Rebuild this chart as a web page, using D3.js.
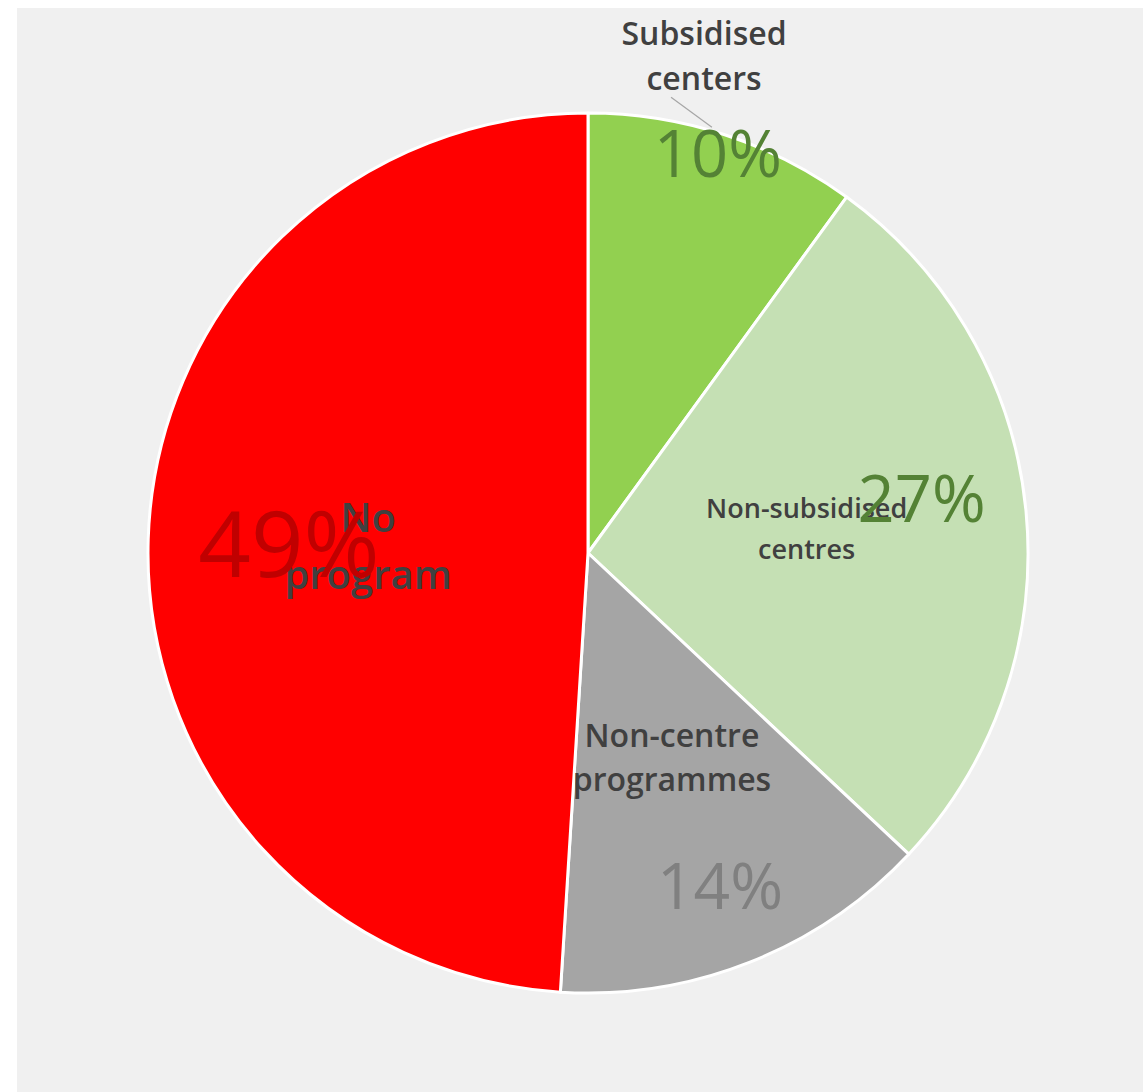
<!DOCTYPE html>
<html>
<head>
<meta charset="utf-8">
<script src="https://cdn.jsdelivr.net/npm/d3@7"></script>
<style>
  html, body { margin: 0; padding: 0; background: #ffffff; }
  svg { display: block; }
</style>
</head>
<body>
<svg id="chart" width="1143" height="1092"></svg>
<script>
// Share of children by type of care arrangement (percent)
const categories = ["Subsidised centers", "Non-subsidised centres", "Non-centre programmes", "No program"];
const values = [10, 27, 14, 49];
const valueLabels = ["10%", "27%", "14%", "49%"];
const nameLines = [["Subsidised", "centers"], ["Non-subsidised", "centres"], ["Non-centre", "programmes"], ["No", "program"]];

// Styling per slice
const sliceColors = ["#92d050", "#c5e0b4", "#a5a5a5", "#ff0000"];
const pctColors = ["#548235", "#548235", "#808080", "#c00000"];
const pctSizes = [65, 65, 64, 92];
const nameSizes = [32, 27, 32, 40];
const nameLineHeights = [45, 41, 44, 57];
// label placement: radius as a fraction of the pie radius, angle shift from the slice middle (radians)
const pctRadius = [0.955, 0.768, 0.815, 0.68];
const pctAngleShift = [0, -0.066, 0, 0];
const nameRadius = [1.161, 0.5, 0.503, 0.5];
const nameAngleShift = [-0.085, -0.016, -0.012, 0];

const width = 1143, height = 1092;
const cx = 588, cy = 553, R = 440;

const svg = d3.select("#chart");

// chart area background
svg.append("rect")
  .attr("x", 17).attr("y", 8)
  .attr("width", width - 17).attr("height", height - 8)
  .attr("fill", "#f0f0f0");

const g = svg.append("g").attr("transform", `translate(${cx},${cy})`);

const pie = d3.pie().sort(null).value(d => d);
const arcs = pie(values);
const arc = d3.arc().innerRadius(0).outerRadius(R);

g.selectAll("path.slice")
  .data(arcs)
  .join("path")
  .attr("class", "slice")
  .attr("d", arc)
  .attr("fill", (d, i) => sliceColors[i])
  .attr("stroke", "#ffffff")
  .attr("stroke-width", 3)
  .attr("stroke-linejoin", "round");

const polar = (a, r) => [Math.sin(a) * r, -Math.cos(a) * r];
const mid = d => (d.startAngle + d.endAngle) / 2;

// leader line for the outside label
{
  const a = mid(arcs[0]);
  const p0 = polar(a - 0.134, R * 1.053);
  const p1 = polar(a - 0.031, R * 1.008);
  g.append("line")
    .attr("x1", p0[0]).attr("y1", p0[1])
    .attr("x2", p1[0]).attr("y2", p1[1])
    .attr("stroke", "#a6a6a6")
    .attr("stroke-width", 1.2);
}

// category names
arcs.forEach((d, i) => {
  const [x, y] = polar(mid(d) + nameAngleShift[i], R * nameRadius[i]);
  const fs = nameSizes[i];
  const lh = nameLineHeights[i];
  const t = g.append("text")
    .attr("x", x).attr("y", y)
    .attr("text-anchor", "middle")
    .attr("font-family", "'Open Sans', 'Noto Sans', sans-serif")
    .attr("font-weight", 600)
    .attr("font-size", fs)
    .attr("fill", "#404040");
  nameLines[i].forEach((line, k) => {
    t.append("tspan")
      .attr("x", x)
      .attr("y", y + (k - (nameLines[i].length - 1) / 2) * lh + fs * 0.36)
      .text(line);
  });
});

// percentage labels
arcs.forEach((d, i) => {
  const [x, y] = polar(mid(d) + pctAngleShift[i], R * pctRadius[i]);
  g.append("text")
    .attr("x", x).attr("y", y + pctSizes[i] * 0.36)
    .attr("text-anchor", "middle")
    .attr("font-family", "'Open Sans', 'Noto Sans', sans-serif")
    .attr("font-size", pctSizes[i])
    .attr("fill", pctColors[i])
    .text(valueLabels[i]);
});
</script>
</body>
</html>
